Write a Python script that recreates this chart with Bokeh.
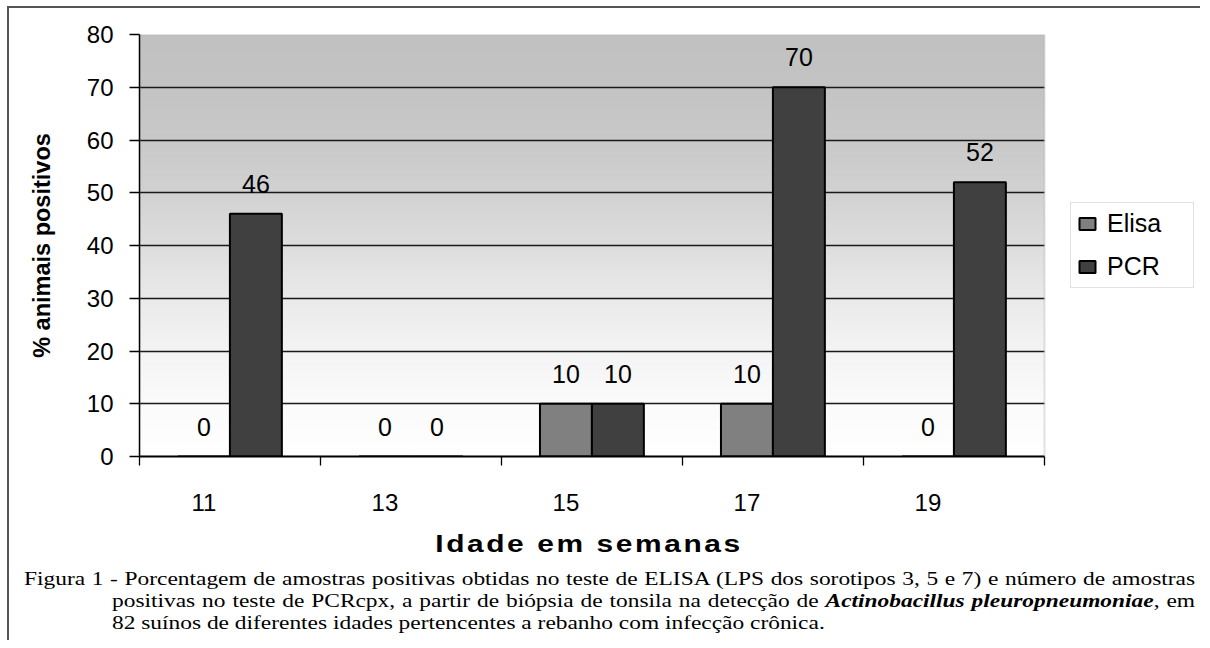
import numpy as np
from bokeh.plotting import figure
from bokeh.models import (Range1d, FixedTicker, Legend, LegendItem,
                          ColumnDataSource, Div, BoxAnnotation)
from bokeh.layouts import column
from bokeh.core.properties import value
from bokeh.embed import file_html
from bokeh.resources import INLINE

# ---------------- data ----------------
ages = ["11", "13", "15", "17", "19"]
elisa = [0, 0, 10, 10, 0]
pcr = [46, 0, 10, 70, 52]
y_ticks = [0, 10, 20, 30, 40, 50, 60, 70, 80]
series_names = ["Elisa", "PCR"]
y_title = "% animais positivos"
x_title = "Idade em semanas"

# ---------------- style ----------------
FONT = "Liberation Sans"
BAR_W = 0.287          # bar width in category units (one category = 1)
OFF = 0.356            # category's left boundary -> Elisa bar centre
C_ELISA = "#808080"
C_PCR = "#404040"
PX_PER_CAT = 181
FRAME_W = 1061         # frame also holds the legend at the right
FRAME_H = 422
N = len(ages)

idx = np.arange(N)
src = ColumnDataSource(dict(
    x_elisa=idx.astype(float),
    x_pcr=idx + BAR_W,
    elisa=elisa,
    pcr=pcr,
    elisa_txt=[str(v) for v in elisa],
    pcr_txt=[str(v) for v in pcr],
))

p = figure(frame_width=FRAME_W, frame_height=FRAME_H,
           min_border_left=130, min_border_right=0,
           min_border_top=26, min_border_bottom=64,
           x_range=Range1d(-OFF, -OFF + FRAME_W / PX_PER_CAT),
           y_range=Range1d(0, 80),
           output_backend="svg", toolbar_location=None,
           background_fill_color="white", border_fill_color="white")
p.outline_line_color = None

# gradient background of the plot area
grad_y = [0, 10, 20, 30, 40, 50, 60, 70, 80]
grad_v = [255, 251, 244, 234, 222, 210, 201, 196, 193]
ys = np.linspace(0, 80, FRAME_H)
g = np.interp(ys, grad_y, grad_v).astype(np.uint32)
img = ((255 << 24) | (g << 16) | (g << 8) | g).reshape(FRAME_H, 1)
img_r = p.image_rgba(image=[img], x=-OFF, y=0, dw=N, dh=80)
img_r.level = "image"

# plot-area border (grey)
box = BoxAnnotation(left=-OFF, right=N - OFF, bottom=0, top=80,
                    fill_alpha=0, line_color="#a0a0a0", line_width=2,
                    level="underlay")
p.add_layout(box)

# bars
r_el = p.vbar(x="x_elisa", top="elisa", width=BAR_W, bottom=0, source=src,
              fill_color=C_ELISA, line_color="black", line_width=2)
r_pc = p.vbar(x="x_pcr", top="pcr", width=BAR_W, bottom=0, source=src,
              fill_color=C_PCR, line_color="black", line_width=2)

# value labels
for xcol, ycol, tcol in (("x_elisa", "elisa", "elisa_txt"),
                         ("x_pcr", "pcr", "pcr_txt")):
    p.text(x=xcol, y=ycol, text=tcol, source=src, y_offset=-30,
           text_align="center", text_baseline="middle",
           text_font=value(FONT), text_font_size="25px", text_color="black")

# grid
p.xgrid.visible = False
p.ygrid.ticker = FixedTicker(ticks=y_ticks[:-1])
p.ygrid.grid_line_color = "#1a1a1a"
p.ygrid.grid_line_width = 1.3
p.ygrid.cross_bounds = (-OFF, N - OFF)

# y axis
ya = p.yaxis[0]
ya.ticker = FixedTicker(ticks=y_ticks)
ya.major_tick_out = 10
ya.major_tick_in = 0
ya.minor_tick_line_color = None
ya.axis_line_color = "black"
ya.axis_line_width = 1.5
ya.major_tick_line_color = "black"
ya.major_tick_line_width = 1.3
ya.major_label_standoff = 16
ya.major_label_text_font = FONT
ya.major_label_text_font_size = "24px"
ya.major_label_text_color = "black"
ya.axis_label = y_title
ya.axis_label_text_font = FONT
ya.axis_label_text_font_size = "23.5px"
ya.axis_label_text_font_style = "bold"
ya.axis_label_text_color = "black"
ya.axis_label_standoff = 29

# x axis: labels under Elisa bar position, ticks at category boundaries
xa = p.xaxis[0]
xa.bounds = (-OFF, N - OFF)
xa.ticker = FixedTicker(ticks=list(idx),
                        minor_ticks=[i - OFF for i in range(N + 1)])
xa.major_label_overrides = {int(i): a for i, a in zip(idx, ages)}
xa.major_tick_out = 0
xa.major_tick_in = 0
xa.minor_tick_out = 9
xa.minor_tick_in = 0
xa.minor_tick_line_color = "black"
xa.minor_tick_line_width = 1.3
xa.axis_line_color = "black"
xa.axis_line_width = 2
xa.major_label_standoff = 28
xa.major_label_text_font = FONT
xa.major_label_text_font_size = "24px"
xa.major_label_text_color = "black"

# legend
legend = Legend(items=[LegendItem(label=series_names[0], renderers=[r_el]),
                       LegendItem(label=series_names[1], renderers=[r_pc])],
                location=(931, 168), orientation="vertical",
                glyph_width=20, glyph_height=15, label_standoff=10,
                label_width=80, label_height=20,
                label_text_font=FONT, label_text_font_size="25px",
                label_text_color="black", padding=6, spacing=14, margin=0,
                border_line_color="#c4c4c4", border_line_width=1.5,
                background_fill_color="white", background_fill_alpha=1)
p.add_layout(legend, "center")

# caption and x title (HTML: letter spacing, justified lines, stretch)
S = 1.3
cap = ("position:absolute;height:22px;line-height:22px;"
       "font-family:'Liberation Serif';font-size:18px;color:#000;"
       f"white-space:nowrap;transform:scaleX({S});transform-origin:0 50%;")
just = "text-align:justify;text-align-last:justify;"
html = f"""
<div style="position:relative;width:1191px;height:120px;">
  <div style="position:absolute;left:1px;top:9px;width:1158px;height:30px;line-height:30px;
              text-align:center;font-family:'Liberation Sans';font-weight:bold;
              font-size:23px;letter-spacing:2px;color:#000;
              transform:scaleX({S});transform-origin:50% 50%;">{x_title}</div>
  <div style="{cap}{just}left:15px;top:48px;width:{1171 / S:.1f}px;">Figura 1 - Porcentagem de amostras positivas obtidas no teste de ELISA (LPS dos sorotipos 3, 5 e 7) e número de amostras</div>
  <div style="{cap}{just}left:103px;top:70px;width:{1083 / S:.1f}px;">positivas no teste de PCRcpx, a partir de biópsia de tonsila na detecção de <b><i>Actinobacillus pleuropneumoniae</i></b>, em</div>
  <div style="{cap}left:103px;top:92px;">82 suínos de diferentes idades pertencentes a rebanho com infecção crônica.</div>
</div>
"""
div = Div(text=html, width=1191, height=120, margin=0)

layout = column(p, div, spacing=0,
                styles={"margin-left": "7px", "margin-top": "6px",
                        "border-top": "2px solid #555",
                        "border-left": "2px solid #555"})

open("out.html", "w").write(file_html(layout, INLINE))
